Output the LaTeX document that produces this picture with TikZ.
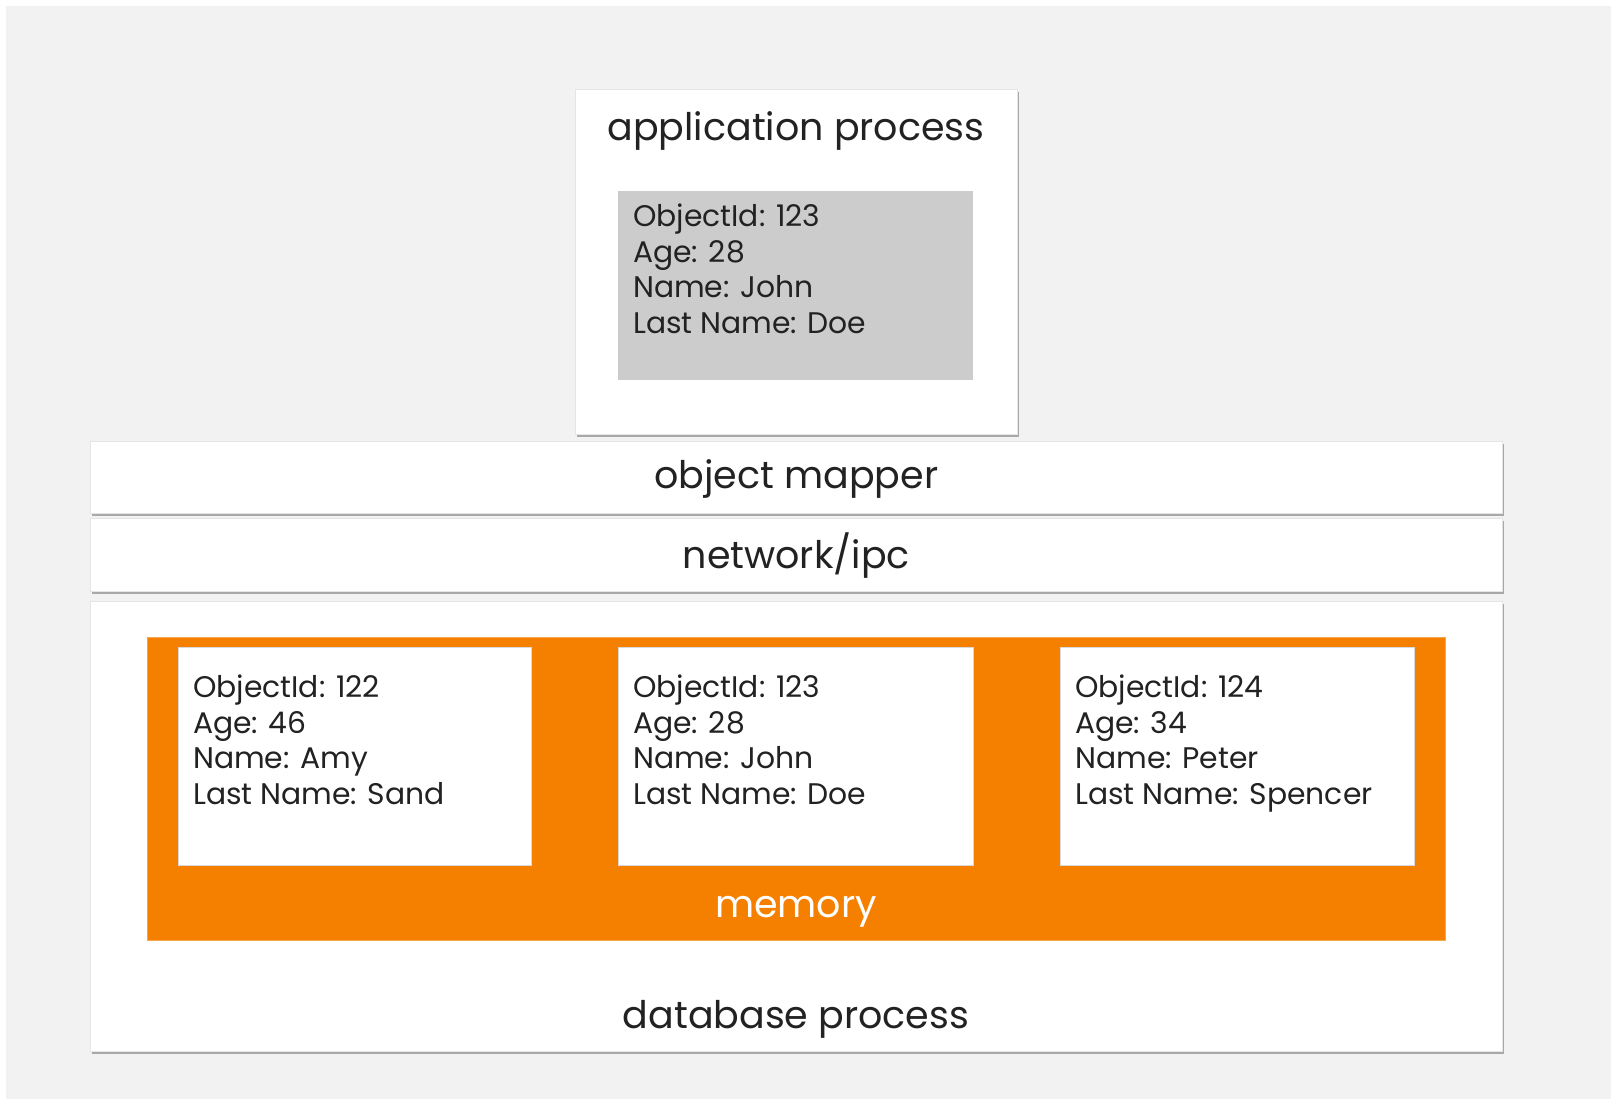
\documentclass[tikz,border=0pt]{standalone}
\usepackage{fontspec}
\setmainfont{Poppins}
\usetikzlibrary{shadows}
\definecolor{canvas}{HTML}{F2F2F2}
\definecolor{recgrey}{HTML}{CCCCCC}
\definecolor{memorange}{HTML}{F58000}
\definecolor{inkdark}{HTML}{222222}
\tikzset{
  panel/.style={draw=black!10, line width=0.6pt, fill=white, anchor=north west, inner sep=0pt,
    drop shadow={shadow xshift=1.5pt, shadow yshift=-3pt, fill=black, opacity=0.3}},
  record/.style={fill=white, draw=black!15, line width=0.6pt, anchor=north west, inner sep=0pt},
  recordtext/.style={anchor=north west, inner sep=0pt, align=left, text=inkdark,
    font=\fontsize{29.8}{35.4}\selectfont},
  biglabel/.style={inner sep=0pt, text=inkdark, font=\fontsize{38}{42}\selectfont},
}
\begin{document}
\begin{tikzpicture}[x=1pt, y=-1pt]
  \useasboundingbox (0,0) rectangle (1611,1099);
  \fill[canvas] (6,6) rectangle (1611,1099);

  % application process
  \node[panel, minimum width=442pt, minimum height=345pt] (app) at (575,89) {};
  \node[biglabel] (applbl) at (796,131) {application process};
  \node[fill=recgrey, anchor=north west, inner sep=0pt, minimum width=355pt, minimum height=189pt] (apprec) at (618,191) {};
  \node[recordtext] (apptxt) at (633,204) {ObjectId: 123\\Age: 28\\Name: John\\Last Name: Doe};

  % layers below the application
  \node[panel, minimum width=1412pt, minimum height=72pt] (mapper) at (90,441) {};
  \node[biglabel] (mapperlbl) at ([yshift=-2pt]mapper.center) {object mapper};
  \node[panel, minimum width=1412pt, minimum height=73pt] (net) at (90,518) {};
  \node[biglabel] (netlbl) at ([yshift=-1pt]net.center) {network/ipc};

  % database process with its memory
  \node[panel, minimum width=1412pt, minimum height=450pt] (db) at (90,601) {};
  \node[biglabel] (dblbl) at (796,1019) {database process};
  \node[fill=memorange, draw=memorange!70!white, line width=0.6pt, anchor=north west, inner sep=0pt,
        minimum width=1298pt, minimum height=303pt] (mem) at (147,637) {};
  \node[biglabel, text=white] (memlbl) at (796,912) {memory};

  \node[record, minimum width=353pt, minimum height=218pt] (r1) at (178,647) {};
  \node[record, minimum width=355pt, minimum height=218pt] (r2) at (618,647) {};
  \node[record, minimum width=354pt, minimum height=218pt] (r3) at (1060,647) {};
  \node[recordtext] (t1) at ([xshift=15pt, yshift=-28pt]r1.north west) {ObjectId: 122\\Age: 46\\Name: Amy\\Last Name: Sand};
  \node[recordtext] (t2) at ([xshift=15pt, yshift=-28pt]r2.north west) {ObjectId: 123\\Age: 28\\Name: John\\Last Name: Doe};
  \node[recordtext] (t3) at ([xshift=15pt, yshift=-28pt]r3.north west) {ObjectId: 124\\Age: 34\\Name: Peter\\Last Name: Spencer};
\end{tikzpicture}
\end{document}
